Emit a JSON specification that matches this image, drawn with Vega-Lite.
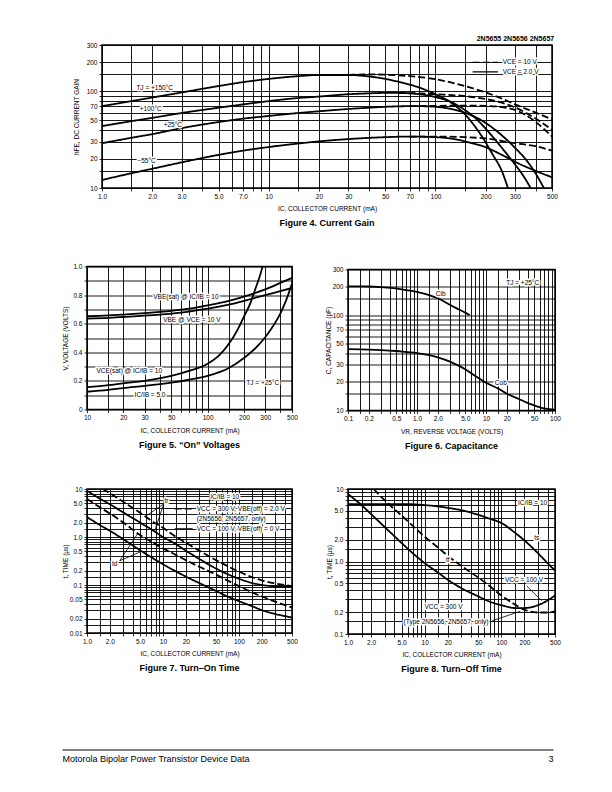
{
  "$schema": "https://vega.github.io/schema/vega-lite/v6.json",
  "autosize": "none",
  "padding": {"left": 62, "top": 45, "right": 550, "bottom": 747},
  "background": "white",
  "config": {
    "font": "Liberation Sans",
    "view": {"stroke": null},
    "axis": {
      "grid": true, "gridColor": "black", "gridOpacity": 1, "gridWidth": 0.9,
      "domain": false, "ticks": true, "tickColor": "black", "tickSize": 3, "tickWidth": 0.8,
      "labelFont": "Liberation Sans", "labelFontSize": 6.5, "labelColor": "black",
      "titleFont": "Liberation Sans", "titleFontSize": 6.5, "titleFontWeight": "normal", "titleColor": "black",
      "labelOverlap": false, "labelFlush": false, "labelBound": false, "labelPadding": 2, "titlePadding": 6
    },
    "title": {"font": "Liberation Sans", "color": "black"},
    "text": {"font": "Liberation Sans"}
  },
  "datasets": {
    "f4c": [
      {"c":"150s","d":"s","x":1,"y":70},{"c":"150s","d":"s","x":1.5,"y":79},{"c":"150s","d":"s","x":2,"y":86},{"c":"150s","d":"s","x":3,"y":97},{"c":"150s","d":"s","x":5,"y":113},{"c":"150s","d":"s","x":7,"y":124},{"c":"150s","d":"s","x":10,"y":134},{"c":"150s","d":"s","x":15,"y":143},{"c":"150s","d":"s","x":20,"y":147},{"c":"150s","d":"s","x":30,"y":147},{"c":"150s","d":"s","x":40,"y":142},{"c":"150s","d":"s","x":50,"y":134},{"c":"150s","d":"s","x":60,"y":125},{"c":"150s","d":"s","x":70,"y":117},{"c":"150s","d":"s","x":80,"y":109},{"c":"150s","d":"s","x":100,"y":93},{"c":"150s","d":"s","x":127,"y":74},{"c":"150s","d":"s","x":154,"y":55},{"c":"150s","d":"s","x":184,"y":37},{"c":"150s","d":"s","x":221,"y":22},{"c":"150s","d":"s","x":250,"y":15},{"c":"150s","d":"s","x":272,"y":10},
      {"c":"150d","d":"d","x":30,"y":147},{"c":"150d","d":"d","x":40,"y":149},{"c":"150d","d":"d","x":50,"y":148},{"c":"150d","d":"d","x":60,"y":146},{"c":"150d","d":"d","x":80,"y":140},{"c":"150d","d":"d","x":100,"y":133},{"c":"150d","d":"d","x":127,"y":122},{"c":"150d","d":"d","x":150,"y":113},{"c":"150d","d":"d","x":200,"y":97},{"c":"150d","d":"d","x":250,"y":84},{"c":"150d","d":"d","x":300,"y":73},{"c":"150d","d":"d","x":400,"y":60},{"c":"150d","d":"d","x":500,"y":51},
      {"c":"100s","d":"s","x":1,"y":43.6},{"c":"100s","d":"s","x":1.5,"y":49},{"c":"100s","d":"s","x":2,"y":53},{"c":"100s","d":"s","x":3,"y":59.5},{"c":"100s","d":"s","x":5,"y":67.5},{"c":"100s","d":"s","x":7,"y":73},{"c":"100s","d":"s","x":10,"y":79},{"c":"100s","d":"s","x":15,"y":85},{"c":"100s","d":"s","x":20,"y":88},{"c":"100s","d":"s","x":30,"y":93},{"c":"100s","d":"s","x":40,"y":95},{"c":"100s","d":"s","x":50,"y":96},{"c":"100s","d":"s","x":60,"y":96},{"c":"100s","d":"s","x":70,"y":95},{"c":"100s","d":"s","x":80,"y":93},{"c":"100s","d":"s","x":100,"y":87},{"c":"100s","d":"s","x":127,"y":76},{"c":"100s","d":"s","x":150,"y":64},{"c":"100s","d":"s","x":175,"y":52},{"c":"100s","d":"s","x":200,"y":41},{"c":"100s","d":"s","x":250,"y":26},{"c":"100s","d":"s","x":300,"y":17.5},{"c":"100s","d":"s","x":340,"y":13},{"c":"100s","d":"s","x":372,"y":10},
      {"c":"100d","d":"d","x":60,"y":96},{"c":"100d","d":"d","x":80,"y":95},{"c":"100d","d":"d","x":100,"y":93},{"c":"100d","d":"d","x":150,"y":89},{"c":"100d","d":"d","x":200,"y":83},{"c":"100d","d":"d","x":250,"y":76},{"c":"100d","d":"d","x":300,"y":68},{"c":"100d","d":"d","x":400,"y":52},{"c":"100d","d":"d","x":500,"y":40},
      {"c":"25s","d":"s","x":1,"y":29},{"c":"25s","d":"s","x":1.5,"y":33},{"c":"25s","d":"s","x":2,"y":36},{"c":"25s","d":"s","x":3,"y":41.5},{"c":"25s","d":"s","x":5,"y":48},{"c":"25s","d":"s","x":7,"y":52},{"c":"25s","d":"s","x":10,"y":55.5},{"c":"25s","d":"s","x":15,"y":59.5},{"c":"25s","d":"s","x":20,"y":62},{"c":"25s","d":"s","x":30,"y":65.5},{"c":"25s","d":"s","x":40,"y":67.5},{"c":"25s","d":"s","x":50,"y":69},{"c":"25s","d":"s","x":70,"y":70},{"c":"25s","d":"s","x":80,"y":70},{"c":"25s","d":"s","x":100,"y":69},{"c":"25s","d":"s","x":127,"y":65},{"c":"25s","d":"s","x":150,"y":60},{"c":"25s","d":"s","x":200,"y":47},{"c":"25s","d":"s","x":250,"y":35},{"c":"25s","d":"s","x":300,"y":26},{"c":"25s","d":"s","x":350,"y":19.5},{"c":"25s","d":"s","x":400,"y":14},{"c":"25s","d":"s","x":447,"y":10},
      {"c":"25d","d":"d","x":70,"y":70},{"c":"25d","d":"d","x":100,"y":70.5},{"c":"25d","d":"d","x":150,"y":71},{"c":"25d","d":"d","x":200,"y":70.5},{"c":"25d","d":"d","x":250,"y":68.5},{"c":"25d","d":"d","x":300,"y":64},{"c":"25d","d":"d","x":400,"y":48},{"c":"25d","d":"d","x":500,"y":34},
      {"c":"m55s","d":"s","x":1,"y":12.1},{"c":"m55s","d":"s","x":1.5,"y":14.2},{"c":"m55s","d":"s","x":2,"y":15.8},{"c":"m55s","d":"s","x":3,"y":18.4},{"c":"m55s","d":"s","x":5,"y":22},{"c":"m55s","d":"s","x":7,"y":24.3},{"c":"m55s","d":"s","x":10,"y":26.5},{"c":"m55s","d":"s","x":15,"y":28.8},{"c":"m55s","d":"s","x":20,"y":30.3},{"c":"m55s","d":"s","x":30,"y":32},{"c":"m55s","d":"s","x":50,"y":33.5},{"c":"m55s","d":"s","x":70,"y":34},{"c":"m55s","d":"s","x":100,"y":33.5},{"c":"m55s","d":"s","x":130,"y":32},{"c":"m55s","d":"s","x":160,"y":29.5},{"c":"m55s","d":"s","x":200,"y":26.4},{"c":"m55s","d":"s","x":250,"y":22},{"c":"m55s","d":"s","x":320,"y":17.7},{"c":"m55s","d":"s","x":400,"y":15},{"c":"m55s","d":"s","x":500,"y":12.9},
      {"c":"m55d","d":"d","x":70,"y":34},{"c":"m55d","d":"d","x":100,"y":34},{"c":"m55d","d":"d","x":150,"y":33.5},{"c":"m55d","d":"d","x":200,"y":32.5},{"c":"m55d","d":"d","x":300,"y":29},{"c":"m55d","d":"d","x":400,"y":27},{"c":"m55d","d":"d","x":500,"y":24.3}
    ],
    "f4t": [
      {"x":2.07,"y":107,"t":"TJ = +150°C"},{"x":1.96,"y":66,"t":"+100°C"},{"x":2.66,"y":45,"t":"+25°C"},{"x":1.85,"y":19.2,"t":"−55°C"}
    ],
    "f4lt": [
      {"x":253,"y":198,"t":"VCE = 10 V"},{"x":253,"y":158,"t":"VCE = 2.0 V"}
    ],
    "f4lr": [
      {"x":167,"x2":237,"y":198,"d":"d"},{"x":167,"x2":237,"y":158,"d":"s"}
    ],
    "f5c": [
      {"c":"vbs","x":10,"y":0.652},{"c":"vbs","x":15,"y":0.658},{"c":"vbs","x":20,"y":0.664},{"c":"vbs","x":30,"y":0.674},{"c":"vbs","x":50,"y":0.69},{"c":"vbs","x":70,"y":0.705},{"c":"vbs","x":100,"y":0.728},{"c":"vbs","x":150,"y":0.76},{"c":"vbs","x":200,"y":0.79},{"c":"vbs","x":300,"y":0.84},{"c":"vbs","x":400,"y":0.885},{"c":"vbs","x":500,"y":0.92},
      {"c":"vbe","x":10,"y":0.636},{"c":"vbe","x":15,"y":0.641},{"c":"vbe","x":20,"y":0.647},{"c":"vbe","x":30,"y":0.656},{"c":"vbe","x":50,"y":0.671},{"c":"vbe","x":70,"y":0.685},{"c":"vbe","x":100,"y":0.705},{"c":"vbe","x":150,"y":0.733},{"c":"vbe","x":200,"y":0.76},{"c":"vbe","x":300,"y":0.8},{"c":"vbe","x":400,"y":0.828},{"c":"vbe","x":500,"y":0.85},
      {"c":"vc10","x":10,"y":0.156},{"c":"vc10","x":15,"y":0.17},{"c":"vc10","x":20,"y":0.183},{"c":"vc10","x":30,"y":0.2},{"c":"vc10","x":50,"y":0.235},{"c":"vc10","x":70,"y":0.27},{"c":"vc10","x":100,"y":0.32},{"c":"vc10","x":125,"y":0.38},{"c":"vc10","x":150,"y":0.46},{"c":"vc10","x":175,"y":0.55},{"c":"vc10","x":200,"y":0.65},{"c":"vc10","x":225,"y":0.74},{"c":"vc10","x":250,"y":0.85},{"c":"vc10","x":270,"y":0.93},{"c":"vc10","x":285,"y":1.0},
      {"c":"vc5","x":10,"y":0.124},{"c":"vc5","x":15,"y":0.137},{"c":"vc5","x":20,"y":0.15},{"c":"vc5","x":30,"y":0.165},{"c":"vc5","x":50,"y":0.188},{"c":"vc5","x":70,"y":0.208},{"c":"vc5","x":100,"y":0.235},{"c":"vc5","x":150,"y":0.29},{"c":"vc5","x":200,"y":0.36},{"c":"vc5","x":250,"y":0.43},{"c":"vc5","x":300,"y":0.505},{"c":"vc5","x":350,"y":0.585},{"c":"vc5","x":400,"y":0.67},{"c":"vc5","x":450,"y":0.77},{"c":"vc5","x":500,"y":0.88}
    ],
    "f5t": [
      {"x":66,"y":0.786,"t":"VBE(sat) @ IC/IB = 10"},{"x":74,"y":0.623,"t":"VBE @ VCE = 10 V"},{"x":22.4,"y":0.267,"t":"VCE(sat) @ IC/IB = 10"},{"x":33.3,"y":0.1,"t":"IC/IB = 5.0"},{"x":286,"y":0.186,"t":"TJ = +25°C"}
    ],
    "f6c": [
      {"c":"cib","x":0.1,"y":200},{"c":"cib","x":0.15,"y":199.5},{"c":"cib","x":0.2,"y":199},{"c":"cib","x":0.3,"y":196},{"c":"cib","x":0.45,"y":191},{"c":"cib","x":0.6,"y":186},{"c":"cib","x":0.8,"y":180},{"c":"cib","x":1.1,"y":172},{"c":"cib","x":1.5,"y":162},{"c":"cib","x":2,"y":150},{"c":"cib","x":2.5,"y":138},{"c":"cib","x":3,"y":128},{"c":"cib","x":4,"y":115},{"c":"cib","x":5,"y":106},{"c":"cib","x":5.8,"y":100},
      {"c":"cob","x":0.1,"y":44},{"c":"cob","x":0.2,"y":43.5},{"c":"cob","x":0.3,"y":43},{"c":"cob","x":0.5,"y":42},{"c":"cob","x":0.7,"y":41},{"c":"cob","x":1,"y":40},{"c":"cob","x":1.5,"y":38},{"c":"cob","x":2,"y":36},{"c":"cob","x":3,"y":32.5},{"c":"cob","x":4,"y":29.5},{"c":"cob","x":5,"y":27},{"c":"cob","x":7,"y":23},{"c":"cob","x":10,"y":19.5},{"c":"cob","x":15,"y":17},{"c":"cob","x":20,"y":15},{"c":"cob","x":30,"y":13.2},{"c":"cob","x":40,"y":12},{"c":"cob","x":50,"y":11.3},{"c":"cob","x":70,"y":10.5},{"c":"cob","x":100,"y":10.2}
    ],
    "f6t": [
      {"x":2.2,"y":167,"t":"Cib"},{"x":16.4,"y":19.4,"t":"Cob"},{"x":34,"y":219,"t":"TJ = +25°C"}
    ],
    "f7c": [
      {"c":"tr3","d":"d","x":1.6,"y":10},{"c":"tr3","d":"d","x":2,"y":8.2},{"c":"tr3","d":"d","x":3,"y":5.4},{"c":"tr3","d":"d","x":5,"y":3.2},{"c":"tr3","d":"d","x":7,"y":2.2},{"c":"tr3","d":"d","x":10,"y":1.55},{"c":"tr3","d":"d","x":15,"y":1.0},{"c":"tr3","d":"d","x":20,"y":0.76},{"c":"tr3","d":"d","x":30,"y":0.52},{"c":"tr3","d":"d","x":50,"y":0.33},{"c":"tr3","d":"d","x":70,"y":0.25},{"c":"tr3","d":"d","x":100,"y":0.19},{"c":"tr3","d":"d","x":150,"y":0.145},{"c":"tr3","d":"d","x":200,"y":0.125},{"c":"tr3","d":"d","x":300,"y":0.108},{"c":"tr3","d":"d","x":500,"y":0.095},
      {"c":"tr1","d":"s","x":1,"y":9.2},{"c":"tr1","d":"s","x":1.5,"y":6.2},{"c":"tr1","d":"s","x":2,"y":4.8},{"c":"tr1","d":"s","x":3,"y":3.25},{"c":"tr1","d":"s","x":5,"y":2.0},{"c":"tr1","d":"s","x":7,"y":1.45},{"c":"tr1","d":"s","x":10,"y":1.0},{"c":"tr1","d":"s","x":15,"y":0.7},{"c":"tr1","d":"s","x":20,"y":0.52},{"c":"tr1","d":"s","x":30,"y":0.35},{"c":"tr1","d":"s","x":50,"y":0.22},{"c":"tr1","d":"s","x":70,"y":0.17},{"c":"tr1","d":"s","x":100,"y":0.135},{"c":"tr1","d":"s","x":150,"y":0.11},{"c":"tr1","d":"s","x":200,"y":0.1},{"c":"tr1","d":"s","x":300,"y":0.094},{"c":"tr1","d":"s","x":500,"y":0.092},
      {"c":"td3","d":"d","x":1,"y":6.2},{"c":"td3","d":"d","x":1.5,"y":4.1},{"c":"td3","d":"d","x":2,"y":3.1},{"c":"td3","d":"d","x":3,"y":2.0},{"c":"td3","d":"d","x":5,"y":1.1},{"c":"td3","d":"d","x":7,"y":0.8},{"c":"td3","d":"d","x":10,"y":0.58},{"c":"td3","d":"d","x":15,"y":0.42},{"c":"td3","d":"d","x":20,"y":0.33},{"c":"td3","d":"d","x":30,"y":0.24},{"c":"td3","d":"d","x":50,"y":0.165},{"c":"td3","d":"d","x":70,"y":0.125},{"c":"td3","d":"d","x":100,"y":0.095},{"c":"td3","d":"d","x":150,"y":0.07},{"c":"td3","d":"d","x":200,"y":0.058},{"c":"td3","d":"d","x":300,"y":0.045},{"c":"td3","d":"d","x":500,"y":0.034},
      {"c":"td1","d":"s","x":1,"y":2.6},{"c":"td1","d":"s","x":1.5,"y":1.75},{"c":"td1","d":"s","x":2,"y":1.35},{"c":"td1","d":"s","x":3,"y":0.9},{"c":"td1","d":"s","x":5,"y":0.53},{"c":"td1","d":"s","x":7,"y":0.38},{"c":"td1","d":"s","x":10,"y":0.27},{"c":"td1","d":"s","x":15,"y":0.19},{"c":"td1","d":"s","x":20,"y":0.15},{"c":"td1","d":"s","x":30,"y":0.11},{"c":"td1","d":"s","x":50,"y":0.075},{"c":"td1","d":"s","x":70,"y":0.058},{"c":"td1","d":"s","x":100,"y":0.046},{"c":"td1","d":"s","x":150,"y":0.036},{"c":"td1","d":"s","x":200,"y":0.03},{"c":"td1","d":"s","x":300,"y":0.025},{"c":"td1","d":"s","x":500,"y":0.021}
    ],
    "f7t": [
      {"x":65,"y":6.7,"t":"IC/IB = 10"},{"x":11.1,"y":5.7,"t":"tr"},{"x":2.32,"y":0.274,"t":"td"}
    ],
    "f7lt": [
      {"x":27.8,"y":3.83,"t":"VCC = 300 V, VBE(off) = 2.0 V"},{"x":27.8,"y":2.37,"t":"(2N5656, 2N5657, only)"},{"x":27.8,"y":1.47,"t":"VCC = 100 V, VBE(off) = 0 V"}
    ],
    "f7lr": [
      {"x":14.3,"x2":24.6,"y":3.83,"d":"d"},{"x":14.3,"x2":24.6,"y":1.47,"d":"s"}
    ],
    "f7a": [
      {"x":10.2,"y":4.87,"x2":5.9,"y2":2.7},{"x":10.2,"y":4.87,"x2":7.8,"y2":1.35},{"x":2.7,"y":0.32,"x2":4.6,"y2":1.15},{"x":2.7,"y":0.32,"x2":5.19,"y2":0.5}
    ],
    "f8c": [
      {"c":"ts","d":"s","x":1,"y":6.2},{"c":"ts","d":"s","x":2,"y":6.2},{"c":"ts","d":"s","x":3,"y":6.2},{"c":"ts","d":"s","x":5,"y":6.2},{"c":"ts","d":"s","x":7,"y":6.15},{"c":"ts","d":"s","x":10,"y":6.0},{"c":"ts","d":"s","x":15,"y":5.75},{"c":"ts","d":"s","x":20,"y":5.5},{"c":"ts","d":"s","x":30,"y":5.1},{"c":"ts","d":"s","x":50,"y":4.4},{"c":"ts","d":"s","x":70,"y":3.9},{"c":"ts","d":"s","x":100,"y":3.4},{"c":"ts","d":"s","x":150,"y":2.5},{"c":"ts","d":"s","x":200,"y":1.95},{"c":"ts","d":"s","x":300,"y":1.3},{"c":"ts","d":"s","x":400,"y":0.95},{"c":"ts","d":"s","x":500,"y":0.75},
      {"c":"tf1","d":"s","x":1,"y":8.5},{"c":"tf1","d":"s","x":1.5,"y":6.0},{"c":"tf1","d":"s","x":2,"y":4.5},{"c":"tf1","d":"s","x":3,"y":3.0},{"c":"tf1","d":"s","x":5,"y":1.8},{"c":"tf1","d":"s","x":7,"y":1.3},{"c":"tf1","d":"s","x":10,"y":0.95},{"c":"tf1","d":"s","x":15,"y":0.7},{"c":"tf1","d":"s","x":20,"y":0.56},{"c":"tf1","d":"s","x":30,"y":0.43},{"c":"tf1","d":"s","x":50,"y":0.33},{"c":"tf1","d":"s","x":70,"y":0.28},{"c":"tf1","d":"s","x":100,"y":0.25},{"c":"tf1","d":"s","x":150,"y":0.228},{"c":"tf1","d":"s","x":200,"y":0.228},{"c":"tf1","d":"s","x":300,"y":0.25},{"c":"tf1","d":"s","x":400,"y":0.29},{"c":"tf1","d":"s","x":500,"y":0.34},
      {"c":"tf3","d":"d","x":2.16,"y":10},{"c":"tf3","d":"d","x":3,"y":7.0},{"c":"tf3","d":"d","x":5,"y":4.3},{"c":"tf3","d":"d","x":7,"y":3.1},{"c":"tf3","d":"d","x":10,"y":2.2},{"c":"tf3","d":"d","x":15,"y":1.55},{"c":"tf3","d":"d","x":20,"y":1.2},{"c":"tf3","d":"d","x":30,"y":0.87},{"c":"tf3","d":"d","x":50,"y":0.6},{"c":"tf3","d":"d","x":70,"y":0.46},{"c":"tf3","d":"d","x":100,"y":0.34},{"c":"tf3","d":"d","x":150,"y":0.255},{"c":"tf3","d":"d","x":200,"y":0.215},{"c":"tf3","d":"d","x":300,"y":0.198},{"c":"tf3","d":"d","x":400,"y":0.198},{"c":"tf3","d":"d","x":500,"y":0.205}
    ],
    "f8t": [
      {"x":255,"y":6.4,"t":"IC/IB = 10"},{"x":289,"y":2.09,"t":"ts"},{"x":20,"y":1.05,"t":"tf"},{"x":197,"y":0.556,"t":"VCC = 100 V"},{"x":17.6,"y":0.238,"t":"VCC = 300 V"},{"x":19,"y":0.148,"t":"(Type 2N5656, 2N5657, only)"}
    ],
    "f8a": [
      {"x":214,"y":0.46,"x2":335,"y2":0.288},{"x":75.6,"y":0.152,"x2":177,"y2":0.206}
    ]
  },
  "bounds": "full",
  "spacing": 33.5,
  "vconcat": [
    {
      "bounds": "flush", "spacing": 0,
      "title": {"text": "2N5655 2N5656 2N5657", "anchor": "end", "frame": "bounds", "fontSize": 7, "fontWeight": "bold", "offset": -1, "dx": -4},
      "hconcat": [
        {"width": 40, "height": 1, "data": {"values": [{}]}, "mark": {"type": "point", "opacity": 0}},
        {
          "width": 450, "height": 143,
          "view": {"stroke": "black", "strokeWidth": 1.5},
          "title": {"text": "Figure 4. Current Gain", "orient": "bottom", "anchor": "middle", "frame": "group", "fontSize": 9, "fontWeight": "bold", "offset": 7},
          "encoding": {
            "x": {"field": "x", "type": "quantitative", "scale": {"type": "log", "domain": [1, 500], "nice": false},
              "axis": {"title": "IC, COLLECTOR CURRENT (mA)", "values": [1,1.5,2,3,4,5,6,7,8,9,10,15,20,30,40,50,60,70,80,90,100,150,200,300,400,500],
                "labelExpr": "indexof([1,2,3,5,7,10,20,30,50,70,100,200,300,500], datum.value) >= 0 ? (datum.value < 10 ? format(datum.value, '.1f') : format(datum.value, 'd')) : ''"}},
            "y": {"field": "y", "type": "quantitative", "scale": {"type": "log", "domain": [10, 300], "nice": false},
              "axis": {"title": "hFE, DC CURRENT GAIN", "titlePadding": 7, "values": [10,15,20,30,40,50,60,70,80,90,100,150,200,300],
                "labelExpr": "indexof([10,20,30,50,70,100,200,300], datum.value) >= 0 ? format(datum.value, 'd') : ''"}}
          },
          "layer": [
            {"data": {"name": "f4c"}, "mark": {"type": "line", "interpolate": "monotone", "color": "black", "strokeWidth": 1.8, "clip": true},
              "encoding": {"detail": {"field": "c"}, "strokeDash": {"field": "d", "type": "nominal", "scale": {"domain": ["s", "d"], "range": [[1, 0], [7, 3]]}, "legend": null}}},
            {"data": {"name": "f4lr"}, "mark": {"type": "rule", "color": "black", "strokeWidth": 1.2},
              "encoding": {"x2": {"field": "x2"}, "strokeDash": {"field": "d", "type": "nominal", "legend": null}}},
            {"data": {"name": "f4t"}, "mark": {"type": "text", "fontSize": 6.5, "fill": "white", "stroke": "white", "strokeWidth": 3, "strokeJoin": "round"}, "encoding": {"text": {"field": "t"}}},
            {"data": {"name": "f4t"}, "mark": {"type": "text", "fontSize": 6.5, "color": "black"}, "encoding": {"text": {"field": "t"}}},
            {"data": {"name": "f4lt"}, "mark": {"type": "text", "align": "left", "fontSize": 6.5, "fill": "white", "stroke": "white", "strokeWidth": 3, "strokeJoin": "round"}, "encoding": {"text": {"field": "t"}}},
            {"data": {"name": "f4lt"}, "mark": {"type": "text", "align": "left", "fontSize": 6.5, "color": "black"}, "encoding": {"text": {"field": "t"}}}
          ]
        }
      ]
    },
    {
      "bounds": "flush", "spacing": 0,
      "hconcat": [
        {"width": 25, "height": 1, "data": {"values": [{}]}, "mark": {"type": "point", "opacity": 0}},
        {
          "width": 205, "height": 143,
          "view": {"stroke": "black", "strokeWidth": 1.5},
          "title": {"text": "Figure 5. “On” Voltages", "orient": "bottom", "anchor": "middle", "frame": "group", "fontSize": 9, "fontWeight": "bold", "offset": 7},
          "encoding": {
            "x": {"field": "x", "type": "quantitative", "scale": {"type": "log", "domain": [10, 500], "nice": false},
              "axis": {"title": "IC, COLLECTOR CURRENT (mA)", "values": [10,15,20,30,40,50,60,70,80,90,100,150,200,300,400,500],
                "labelExpr": "indexof([10,20,30,50,100,200,300,500], datum.value) >= 0 ? format(datum.value, 'd') : ''"}},
            "y": {"field": "y", "type": "quantitative", "scale": {"type": "linear", "domain": [0, 1], "nice": false},
              "axis": {"title": "V, VOLTAGE (VOLTS)", "titlePadding": 4, "values": [0,0.1,0.2,0.3,0.4,0.5,0.6,0.7,0.8,0.9,1],
                "labelExpr": "datum.value == 0 ? '0' : (indexof([0.2,0.4,0.6,0.8,1], datum.value) >= 0 ? format(datum.value, '.1f') : '')"}}
          },
          "layer": [
            {"data": {"name": "f5c"}, "mark": {"type": "line", "interpolate": "monotone", "color": "black", "strokeWidth": 1.8, "clip": true},
              "encoding": {"detail": {"field": "c"}}},
            {"data": {"name": "f5t"}, "mark": {"type": "text", "fontSize": 6.5, "fill": "white", "stroke": "white", "strokeWidth": 3, "strokeJoin": "round"}, "encoding": {"text": {"field": "t"}}},
            {"data": {"name": "f5t"}, "mark": {"type": "text", "fontSize": 6.5, "color": "black"}, "encoding": {"text": {"field": "t"}}}
          ]
        },
        {"width": 56, "height": 1, "data": {"values": [{}]}, "mark": {"type": "point", "opacity": 0}},
        {
          "bounds": "flush", "spacing": 0,
          "vconcat": [
            {"width": 1, "height": 3, "data": {"values": [{}]}, "mark": {"type": "point", "opacity": 0}},
            {
              "width": 207, "height": 141,
              "view": {"stroke": "black", "strokeWidth": 1.5},
              "title": {"text": "Figure 6. Capacitance", "orient": "bottom", "anchor": "middle", "frame": "group", "fontSize": 9, "fontWeight": "bold", "offset": 7},
              "encoding": {
                "x": {"field": "x", "type": "quantitative", "scale": {"type": "log", "domain": [0.1, 100], "nice": false},
                  "axis": {"title": "VR, REVERSE VOLTAGE (VOLTS)", "values": [0.1,0.15,0.2,0.3,0.4,0.5,0.6,0.7,0.8,0.9,1,1.5,2,3,4,5,6,7,8,9,10,15,20,30,40,50,60,70,80,90,100],
                    "labelExpr": "indexof([0.1,0.2,0.5,1,2,5,10,20,50,100], datum.value) >= 0 ? (datum.value < 10 ? format(datum.value, '.1f') : format(datum.value, 'd')) : ''"}},
                "y": {"field": "y", "type": "quantitative", "scale": {"type": "log", "domain": [10, 300], "nice": false},
                  "axis": {"title": "C, CAPACITANCE (pF)", "titlePadding": 1, "values": [10,15,20,30,40,50,60,70,80,90,100,150,200,300],
                    "labelExpr": "indexof([10,20,30,50,70,100,200,300], datum.value) >= 0 ? format(datum.value, 'd') : ''"}}
              },
              "layer": [
                {"data": {"name": "f6c"}, "mark": {"type": "line", "interpolate": "monotone", "color": "black", "strokeWidth": 1.8, "clip": true},
                  "encoding": {"detail": {"field": "c"}}},
                {"data": {"name": "f6t"}, "mark": {"type": "text", "fontSize": 6.5, "fill": "white", "stroke": "white", "strokeWidth": 3, "strokeJoin": "round"}, "encoding": {"text": {"field": "t"}}},
                {"data": {"name": "f6t"}, "mark": {"type": "text", "fontSize": 6.5, "color": "black"}, "encoding": {"text": {"field": "t"}}}
              ]
            }
          ]
        }
      ]
    },
    {
      "bounds": "flush", "spacing": 0,
      "hconcat": [
        {"width": 25, "height": 1, "data": {"values": [{}]}, "mark": {"type": "point", "opacity": 0}},
        {
          "width": 205, "height": 144,
          "view": {"stroke": "black", "strokeWidth": 1.5},
          "title": {"text": "Figure 7. Turn–On Time", "orient": "bottom", "anchor": "middle", "frame": "group", "fontSize": 9, "fontWeight": "bold", "offset": 7},
          "encoding": {
            "x": {"field": "x", "type": "quantitative", "scale": {"type": "log", "domain": [1, 500], "nice": false},
              "axis": {"title": "IC, COLLECTOR CURRENT (mA)", "values": [1,1.5,2,3,4,5,6,7,8,9,10,15,20,30,40,50,60,70,80,90,100,150,200,300,400,500],
                "labelExpr": "indexof([1,2,5,10,20,50,100,200,500], datum.value) >= 0 ? (datum.value < 10 ? format(datum.value, '.1f') : format(datum.value, 'd')) : ''"}},
            "y": {"field": "y", "type": "quantitative", "scale": {"type": "log", "domain": [0.01, 10], "nice": false},
              "axis": {"title": "t, TIME (μs)", "titlePadding": 1, "values": [0.01,0.015,0.02,0.03,0.04,0.05,0.06,0.07,0.08,0.09,0.1,0.15,0.2,0.3,0.4,0.5,0.6,0.7,0.8,0.9,1,1.5,2,3,4,5,6,7,8,9,10],
                "labelExpr": "indexof([0.01,0.02,0.05,0.1,0.2,0.5,1,2,5,10], datum.value) >= 0 ? (datum.value >= 10 ? '10' : (datum.value >= 0.1 ? format(datum.value, '.1f') : format(datum.value, '.2f'))) : ''"}}
          },
          "layer": [
            {"data": {"name": "f7c"}, "mark": {"type": "line", "interpolate": "monotone", "color": "black", "strokeWidth": 1.8, "clip": true},
              "encoding": {"detail": {"field": "c"}, "strokeDash": {"field": "d", "type": "nominal", "scale": {"domain": ["s", "d"], "range": [[1, 0], [7, 3]]}, "legend": null}}},
            {"data": {"name": "f7a"}, "mark": {"type": "rule", "color": "black", "strokeWidth": 0.8},
              "encoding": {"x2": {"field": "x2"}, "y2": {"field": "y2"}}},
            {"data": {"name": "f7lr"}, "mark": {"type": "rule", "color": "black", "strokeWidth": 1.2},
              "encoding": {"x2": {"field": "x2"}, "strokeDash": {"field": "d", "type": "nominal", "legend": null}}},
            {"data": {"name": "f7t"}, "mark": {"type": "text", "fontSize": 6.5, "fill": "white", "stroke": "white", "strokeWidth": 3, "strokeJoin": "round"}, "encoding": {"text": {"field": "t"}}},
            {"data": {"name": "f7t"}, "mark": {"type": "text", "fontSize": 6.5, "color": "black"}, "encoding": {"text": {"field": "t"}}},
            {"data": {"name": "f7lt"}, "mark": {"type": "text", "align": "left", "fontSize": 6.5, "fill": "white", "stroke": "white", "strokeWidth": 3, "strokeJoin": "round"}, "encoding": {"text": {"field": "t"}}},
            {"data": {"name": "f7lt"}, "mark": {"type": "text", "align": "left", "fontSize": 6.5, "color": "black"}, "encoding": {"text": {"field": "t"}}}
          ]
        },
        {"width": 56, "height": 1, "data": {"values": [{}]}, "mark": {"type": "point", "opacity": 0}},
        {
          "width": 207, "height": 145,
          "view": {"stroke": "black", "strokeWidth": 1.5},
          "title": {"text": "Figure 8. Turn–Off Time", "orient": "bottom", "anchor": "middle", "frame": "group", "fontSize": 9, "fontWeight": "bold", "offset": 7},
          "encoding": {
            "x": {"field": "x", "type": "quantitative", "scale": {"type": "log", "domain": [1, 500], "nice": false},
              "axis": {"title": "IC, COLLECTOR CURRENT (mA)", "values": [1,1.5,2,3,4,5,6,7,8,9,10,15,20,30,40,50,60,70,80,90,100,150,200,300,400,500],
                "labelExpr": "indexof([1,2,5,10,20,50,100,200,500], datum.value) >= 0 ? (datum.value < 10 ? format(datum.value, '.1f') : format(datum.value, 'd')) : ''"}},
            "y": {"field": "y", "type": "quantitative", "scale": {"type": "log", "domain": [0.1, 10], "nice": false},
              "axis": {"title": "t, TIME (μs)", "titlePadding": 1, "values": [0.1,0.15,0.2,0.3,0.4,0.5,0.6,0.7,0.8,0.9,1,1.5,2,3,4,5,6,7,8,9,10],
                "labelExpr": "indexof([0.1,0.2,0.5,1,2,5,10], datum.value) >= 0 ? (datum.value >= 10 ? '10' : format(datum.value, '.1f')) : ''"}}
          },
          "layer": [
            {"data": {"name": "f8c"}, "mark": {"type": "line", "interpolate": "monotone", "color": "black", "strokeWidth": 1.8, "clip": true},
              "encoding": {"detail": {"field": "c"}, "strokeDash": {"field": "d", "type": "nominal", "scale": {"domain": ["s", "d"], "range": [[1, 0], [7, 3]]}, "legend": null}}},
            {"data": {"name": "f8a"}, "mark": {"type": "rule", "color": "black", "strokeWidth": 0.8},
              "encoding": {"x2": {"field": "x2"}, "y2": {"field": "y2"}}},
            {"data": {"name": "f8t"}, "mark": {"type": "text", "fontSize": 6.5, "fill": "white", "stroke": "white", "strokeWidth": 3, "strokeJoin": "round"}, "encoding": {"text": {"field": "t"}}},
            {"data": {"name": "f8t"}, "mark": {"type": "text", "fontSize": 6.5, "color": "black"}, "encoding": {"text": {"field": "t"}}}
          ]
        }
      ]
    },
    {
      "width": 491, "height": 41,
      "data": {"values": [{"t": "Motorola Bipolar Power Transistor Device Data"}, {"t": "3"}]},
      "mark": {"type": "point", "opacity": 0},
      "encoding": {
        "x": {"field": "t", "type": "nominal",
          "scale": {"type": "point", "padding": 0, "domain": ["Motorola Bipolar Power Transistor Device Data", "3"]},
          "axis": {"title": null, "grid": false, "ticks": false, "domain": true, "domainColor": "black", "domainWidth": 1,
            "labelFontSize": 9, "labelAngle": 0, "labelPadding": 5, "labelLimit": 0,
            "labelAlign": {"condition": {"test": "datum.value == '3'", "value": "right"}, "value": "left"}}}
      }
    }
  ]
}
